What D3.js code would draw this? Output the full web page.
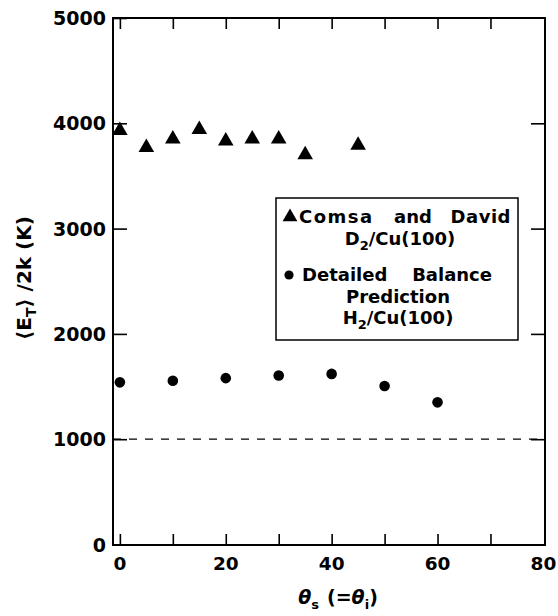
<!DOCTYPE html>
<html>
<head>
<meta charset="utf-8">
<script src="https://cdn.jsdelivr.net/npm/d3@7"></script>
<style>
  body { margin: 0; background: #fff; }
  text { font-family: "DejaVu Sans", Arial, sans-serif; font-weight: bold; fill: #000; }
</style>
</head>
<body>
<div id="chart"></div>
<script>
// Comsa and David, D2/Cu(100)
var comsaAngles = [0, 5, 10, 15, 20, 25, 30, 35, 45];
var comsaEnergy = [3950, 3790, 3870, 3960, 3850, 3870, 3870, 3720, 3810];

// detailed balance prediction, H2/Cu(100)
var balanceAngles = [0, 10, 20, 30, 40, 50, 60];
var balanceEnergy = [1540, 1555, 1580, 1605, 1620, 1505, 1350];

var xTicks = [0, 20, 40, 60, 80];
var xMinorTicks = [0, 10, 20, 30, 40, 50, 60, 70];
var yTicks = [0, 1000, 2000, 3000, 4000, 5000];
var rightTicks = [1000, 2000, 3000, 4000];
var refLevel = 1000;

(function () {
var width = 558, height = 616;
var pL = 113, pR = 545, pT = 18, pB = 545;

var svg = d3.select('#chart').append('svg')
    .attr('width', width)
    .attr('height', height);

var x = d3.scaleLinear().domain([-1.3, 80.3]).range([pL, pR]);
var y = d3.scaleLinear().domain([0, 5000]).range([544.5, pT]);

// frame
svg.append('rect')
    .attr('x', pL).attr('y', pT)
    .attr('width', pR - pL).attr('height', pB - pT)
    .attr('fill', 'none').attr('stroke', '#000').attr('stroke-width', 2);

// inward ticks
var axB = d3.axisTop(x).tickValues(xMinorTicks).tickSize(11).tickFormat('');
svg.append('g').attr('transform', 'translate(0,' + pB + ')').call(axB);
var axT = d3.axisBottom(x).tickValues(xMinorTicks).tickSize(11).tickFormat('');
svg.append('g').attr('transform', 'translate(0,' + pT + ')').call(axT);
var axL = d3.axisRight(y).tickValues(yTicks).tickSize(14).tickFormat('');
svg.append('g').attr('transform', 'translate(' + pL + ',0)').call(axL);
var axR = d3.axisLeft(y).tickValues(rightTicks).tickSize(14).tickFormat('');
svg.append('g').attr('transform', 'translate(' + pR + ',0)').call(axR);
svg.selectAll('.domain').remove();
svg.selectAll('.tick line').attr('stroke', '#000').attr('stroke-width', 1.6);

// tick labels
svg.selectAll('.xlab').data(xTicks).enter().append('text')
    .attr('x', d => x(d)).attr('y', 570)
    .attr('text-anchor', 'middle').attr('font-size', 18.5)
    .text(d => d);
svg.selectAll('.ylab').data(yTicks).enter().append('text')
    .attr('x', 106).attr('y', d => y(d) + 7)
    .attr('text-anchor', 'end').attr('font-size', 19)
    .text(d => d);

// dashed reference line
svg.append('line')
    .attr('x1', pL).attr('x2', pR)
    .attr('y1', y(refLevel)).attr('y2', y(refLevel))
    .attr('stroke', '#000').attr('stroke-width', 1.3)
    .attr('stroke-dasharray', '8,8');

// data
var tri = d3.symbol().type(d3.symbolTriangle).size(105);
svg.selectAll('.tri').data(comsaAngles).enter().append('path')
    .attr('d', tri)
    .attr('transform', (d, i) => 'translate(' + x(d) + ',' + (y(comsaEnergy[i]) + 2) + ')')
    .attr('fill', '#000');

svg.selectAll('.dot').data(balanceAngles).enter().append('circle')
    .attr('cx', d => x(d)).attr('cy', (d, i) => y(balanceEnergy[i]))
    .attr('r', 5.3).attr('fill', '#000');

// legend
var lg = svg.append('g');
lg.append('rect')
    .attr('x', 276).attr('y', 198).attr('width', 242).attr('height', 142)
    .attr('fill', '#fff').attr('stroke', '#000').attr('stroke-width', 1.5);
lg.append('path').attr('d', d3.symbol().type(d3.symbolTriangle).size(95))
    .attr('transform', 'translate(290,217)');
function word(s, xx, yy, anchor) {
    return lg.append('text').attr('x', xx).attr('y', yy)
        .attr('text-anchor', anchor).attr('font-size', 18).text(s);
}
word('Comsa', 299, 223, 'start').attr('letter-spacing', 1.5);
word('and', 413, 223, 'middle');
word('David', 511, 223, 'end').attr('letter-spacing', 0.5);
var t2 = lg.append('text').attr('x', 400).attr('y', 245)
    .attr('text-anchor', 'middle').attr('font-size', 18);
t2.append('tspan').text('D');
t2.append('tspan').attr('dy', 5).attr('font-size', 13).text('2');
t2.append('tspan').attr('dy', -5).text('/Cu(100)');
lg.append('circle').attr('cx', 289).attr('cy', 275).attr('r', 4.6);
word('Detailed', 302, 281, 'start');
word('Balance', 492, 281, 'end');
word('Prediction', 398, 303, 'middle');
var t5 = lg.append('text').attr('x', 398).attr('y', 324)
    .attr('text-anchor', 'middle').attr('font-size', 18);
t5.append('tspan').text('H');
t5.append('tspan').attr('dy', 5).attr('font-size', 13).text('2');
t5.append('tspan').attr('dy', -5).text('/Cu(100)');

// y axis title
var yt = svg.append('text')
    .attr('transform', 'translate(31,278) rotate(-90)')
    .attr('text-anchor', 'middle').attr('font-size', 20);
yt.append('tspan').text('\u27E8E');
yt.append('tspan').attr('dy', 5).attr('font-size', 14).text('T');
yt.append('tspan').attr('dy', -5).text('\u27E9 /2k  (K)');

// x axis title
var xt = svg.append('text')
    .attr('x', 338).attr('y', 604)
    .attr('text-anchor', 'middle').attr('font-size', 19);
xt.append('tspan').attr('font-style', 'italic').text('\u03B8');
xt.append('tspan').attr('dy', 5).attr('font-size', 13).text('s');
xt.append('tspan').attr('dy', -5).attr('dx', 8).text('(=');
xt.append('tspan').attr('font-style', 'italic').text('\u03B8');
xt.append('tspan').attr('dy', 5).attr('font-size', 13).text('i');
xt.append('tspan').attr('dy', -5).text(')');
})();
</script>
</body>
</html>
